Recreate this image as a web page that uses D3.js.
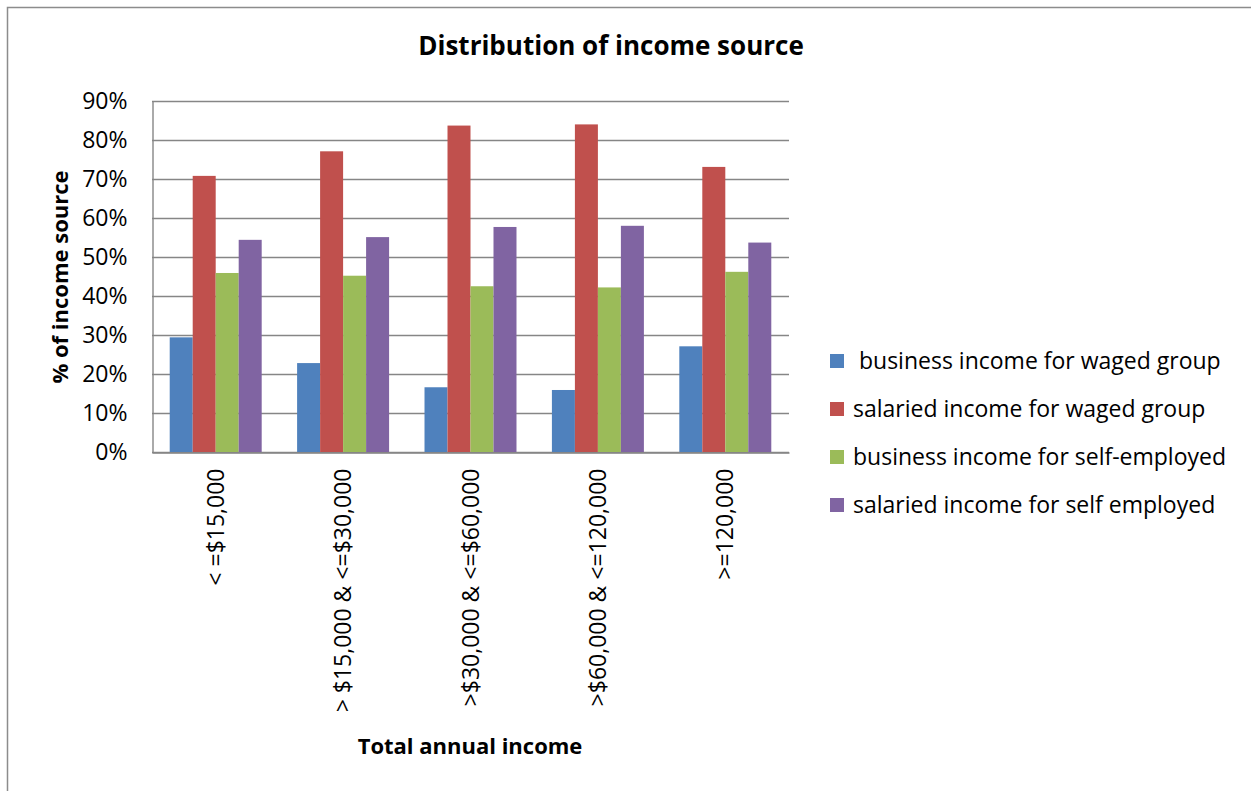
<!DOCTYPE html>
<html>
<head>
<meta charset="utf-8">
<script src="https://cdn.jsdelivr.net/npm/d3@7"></script>
<style>
    body { margin: 0; background: #fff; }
    svg text { font-family: "Open Sans", sans-serif; fill: #000; }
</style>
</head>
<body>
<div id="chart"></div>
<script>

// categories (x axis)
const categories = ["< =$15,000", "> $15,000 & <=$30,000", ">$30,000 & <=$60,000", ">$60,000 & <=120,000", ">=120,000"];

// series names, legend order
const seriesNames = [" business income for waged group", "salaried income for waged group", "business income for self-employed", "salaried income for self employed"];

// values in %
const bizWaged = [29.4, 22.8, 16.6, 15.9, 27.1];
const salWaged = [70.8, 77.1, 83.7, 84.0, 73.1];
const bizSelf = [45.9, 45.2, 42.5, 42.2, 46.2];
const salSelf = [54.4, 55.1, 57.7, 58.0, 53.7];

const yTicks = [0, 10, 20, 30, 40, 50, 60, 70, 80, 90];
const colors = ["#4f81bd", "#c0504d", "#9bbb59", "#8064a2"];


class GroupedChart {

    constructor() {
        this.series = [bizWaged, salWaged, bizSelf, salSelf];
        this.data = categories.map((c, i) => ({
            group: c,
            values: seriesNames.map((s, j) => ({key: s, value: this.series[j][i]}))
        }));
        this.initVis();
    }

    initVis() {
        let vis = this;

        vis.W = 1251;
        vis.H = 791;
        vis.plot = {left: 152, right: 789, top: 101, bottom: 452};
        vis.font = "'Open Sans', sans-serif";

        vis.svg = d3.select("#chart")
            .append("svg")
            .attr("width", vis.W)
            .attr("height", vis.H);

        // chart frame (only left and top edges visible)
        vis.svg.append("rect")
            .attr("x", 7.5)
            .attr("y", 7.5)
            .attr("width", 1300)
            .attr("height", 900)
            .attr("fill", "none")
            .attr("stroke", "#8c8c8c")
            .attr("stroke-width", 1.5);

        vis.x0 = d3.scaleBand()
            .domain(categories)
            .range([vis.plot.left, vis.plot.right]);

        vis.x1 = d3.scaleBand()
            .domain(seriesNames)
            .range([0, vis.x0.bandwidth()])
            .paddingOuter(0.77);

        vis.y = d3.scaleLinear()
            .domain([0, 90])
            .range([vis.plot.bottom, vis.plot.top]);

        vis.color = d3.scaleOrdinal()
            .domain(seriesNames)
            .range(colors);

        // gridlines
        vis.svg.append("g")
            .selectAll("line")
            .data(yTicks)
            .join("line")
            .attr("x1", vis.plot.left)
            .attr("x2", vis.plot.right)
            .attr("y1", d => Math.round(vis.y(d)) + 0.5)
            .attr("y2", d => Math.round(vis.y(d)) + 0.5)
            .attr("stroke", "#868686")
            .attr("stroke-width", 1.4);

        // y axis
        vis.yAxis = d3.axisLeft(vis.y)
            .tickValues(yTicks)
            .tickSize(0)
            .tickPadding(25)
            .tickFormat(d => d + "%");

        vis.svg.append("g")
            .attr("transform", `translate(${vis.plot.left + 0.5},0)`)
            .call(vis.yAxis)
            .call(g => g.select(".domain").attr("stroke", "#868686").attr("stroke-width", 1.4))
            .call(g => g.selectAll("text")
                .attr("font-size", 23)
                .attr("font-family", vis.font)
                .attr("fill", "#000"));

        // bars
        vis.svg.append("g")
            .selectAll("g")
            .data(vis.data)
            .join("g")
            .attr("transform", d => `translate(${vis.x0(d.group)},0)`)
            .selectAll("rect")
            .data(d => d.values)
            .join("rect")
            .attr("x", d => vis.x1(d.key))
            .attr("y", d => vis.y(d.value))
            .attr("width", vis.x1.bandwidth())
            .attr("height", d => vis.y(0) - vis.y(d.value))
            .attr("fill", d => vis.color(d.key));

        // x axis
        vis.xAxis = d3.axisBottom(vis.x0)
            .tickSize(0)
            .tickPadding(0);

        vis.svg.append("g")
            .attr("transform", `translate(0,${vis.plot.bottom + 0.5})`)
            .call(vis.xAxis)
            .call(g => g.select(".domain").attr("stroke", "#868686").attr("stroke-width", 1.4))
            .call(g => g.selectAll("text")
                .attr("font-size", 23)
                .attr("font-family", vis.font)
                .attr("fill", "#000")
                .attr("text-anchor", "end")
                .attr("dy", "0.35em")
                .attr("transform", "translate(0,16) rotate(-90)")
                .attr("x", 0)
                .attr("y", 0));

        //overall title
        vis.svg.append("text")
            .attr("x", 611)
            .attr("y", 55)
            .attr("text-anchor", "middle")
            .attr("font-size", 26)
            .attr("font-weight", "bold")
            .text("Distribution of income source");

        //y axis label
        vis.svg.append("text")
            .attr("text-anchor", "middle")
            .attr("transform", "translate(68,277) rotate(-90)")
            .attr("font-size", 22)
            .attr("font-weight", "bold")
            .text("% of income source");

        //x axis label
        vis.svg.append("text")
            .attr("text-anchor", "middle")
            .attr("x", 470)
            .attr("y", 754)
            .attr("font-size", 22)
            .attr("font-weight", "bold")
            .text("Total annual income");

        //legend
        vis.legend = vis.svg.append("g")
            .selectAll("g")
            .data(seriesNames)
            .join("g")
            .attr("transform", (d, i) => `translate(830,${361 + i * 48})`);

        vis.legend.append("rect")
            .attr("x", 0)
            .attr("y", -7)
            .attr("width", 14)
            .attr("height", 14)
            .attr("fill", d => vis.color(d));

        vis.legend.append("text")
            .attr("x", 23)
            .attr("y", 0)
            .attr("dy", "0.35em")
            .attr("font-size", 23)
            .style("white-space", "pre")
            .text(d => d);
    }
}

new GroupedChart();
</script>
</body>
</html>
